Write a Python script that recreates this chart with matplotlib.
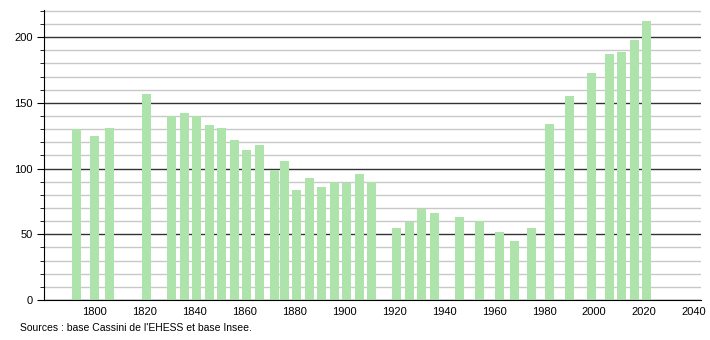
import numpy as np
import matplotlib.pyplot as plt
from matplotlib.ticker import MultipleLocator

plt.rcParams["font.family"] = ["Liberation Sans", "DejaVu Sans"]

# Census years and population
years = [1793, 1800, 1806, 1821, 1831, 1836, 1841, 1846, 1851, 1856, 1861,
         1866, 1872, 1876, 1881, 1886, 1891, 1896, 1901, 1906, 1911, 1921,
         1926, 1931, 1936, 1946, 1954, 1962, 1968, 1975, 1982, 1990, 1999,
         2006, 2011, 2016, 2021]
population = [130, 125, 131, 157, 140, 142, 140, 133, 131, 122, 114,
              118, 99, 106, 84, 93, 86, 90, 89, 96, 90, 55,
              59, 69, 66, 63, 60, 52, 45, 55, 134, 155, 173,
              187, 189, 198, 212]
xtick_years = [1800, 1820, 1840, 1860, 1880, 1900, 1920, 1940, 1960, 1980,
               2000, 2020, 2040]
source_text = "Sources : base Cassini de l'EHESS et base Insee."

fig = plt.figure(figsize=(7.1, 3.4), dpi=100)
ax = fig.add_axes([0.062, 0.1176, 0.925, 0.853])

ax.bar(years, population, width=3.6, color="#aee3ab", zorder=3)

ax.set_xlim(1779.8, 2042.7)
ax.set_ylim(0, 220.6)

ax.yaxis.set_major_locator(MultipleLocator(50))
ax.yaxis.set_minor_locator(MultipleLocator(10))
ax.grid(axis="y", which="minor", color="#c8c8c8", linewidth=1, zorder=0)
ax.grid(axis="y", which="major", color="#333333", linewidth=1, zorder=1)

ax.set_xticks(xtick_years)
ax.tick_params(axis="x", length=0, labelsize=8, pad=5)
ax.tick_params(axis="y", which="major", length=5, labelsize=8, pad=3)
ax.tick_params(axis="y", which="minor", length=3)

ax.spines["top"].set_visible(False)
ax.spines["right"].set_visible(False)
ax.spines["left"].set_zorder(4)
ax.spines["bottom"].set_zorder(4)

fig.text(20 / 710, 1 - 328 / 340, source_text, fontsize=7.5, va="center")

fig.savefig("out.png", dpi=100)
